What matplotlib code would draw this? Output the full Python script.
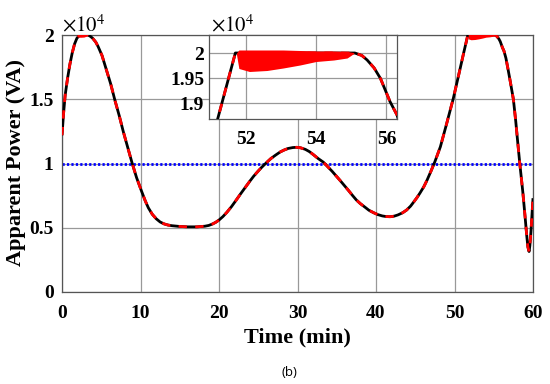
import matplotlib
matplotlib.use('Agg')
import matplotlib.pyplot as plt

# ---- data (apparent power in units of 1e4 VA) ----
time_min = [0, 0.2, 0.4, 0.7, 1.0, 1.3, 1.6, 1.9, 2.2, 2.6, 3.3, 3.6, 3.9, 4.3, 4.6, 5.1, 5.6,
            6.2, 6.75, 7.3, 7.8, 8.35, 8.9, 9.5, 10.1, 10.6, 11.0, 11.5, 12.0, 12.5, 13.0, 13.5,
            14.0, 15.0, 16.0, 17.2, 18.2, 18.7, 19.2, 19.6, 20.0, 20.5, 21.0, 21.6, 22.2, 22.8,
            23.3, 23.9, 24.4, 24.9, 25.4, 26.1, 26.6, 27.2, 27.8, 28.3, 28.8, 29.4, 29.9, 30.4,
            31.0, 31.5, 32.0, 32.6, 33.3, 34.4, 35.4, 36.5, 37.0, 37.5, 38.0, 38.6, 39.1, 39.7,
            40.2, 40.8, 41.3, 41.8, 42.3, 42.8, 43.4, 43.9, 44.4, 44.8, 45.2, 45.6, 46.1, 46.5,
            47.0, 47.5, 48.2, 49.0, 49.85, 50.5, 51.2, 51.7, 52.0, 53.0, 54.0, 55.1, 55.3, 55.45,
            55.65, 55.83, 56.1, 56.3, 56.55, 56.8, 57.1, 57.5, 57.8, 58.0, 58.3, 58.7, 59.0,
            59.2, 59.35, 59.5, 59.6, 59.75, 60.0]
power_ref = [1.22, 1.39, 1.53, 1.66, 1.77, 1.86, 1.93, 1.975, 1.995, 2.0, 2.0, 1.99, 1.975, 1.945,
             1.91, 1.84, 1.74, 1.62, 1.49, 1.37, 1.25, 1.13, 1.01, 0.89, 0.79, 0.71, 0.655, 0.605,
             0.57, 0.545, 0.53, 0.521, 0.516, 0.51, 0.507, 0.507, 0.512, 0.518, 0.53, 0.543, 0.56,
             0.587, 0.62, 0.665, 0.716, 0.768, 0.81, 0.86, 0.90, 0.935, 0.968, 1.01, 1.038, 1.065,
             1.09, 1.105, 1.117, 1.124, 1.126, 1.122, 1.11, 1.093, 1.07, 1.04, 1.01, 0.94, 0.87,
             0.79, 0.752, 0.716, 0.688, 0.66, 0.636, 0.617, 0.603, 0.592, 0.587, 0.586, 0.59,
             0.60, 0.617, 0.638, 0.668, 0.70, 0.733, 0.77, 0.82, 0.87, 0.94, 1.014, 1.13, 1.31,
             1.507, 1.68, 1.869, 2.0, 2.0, 2.0, 2.0, 2.0, 1.995, 1.986, 1.97, 1.949, 1.903, 1.876,
             1.82, 1.74, 1.64, 1.50, 1.33, 1.20, 1.01, 0.78, 0.58, 0.44, 0.35, 0.315, 0.36, 0.48,
             0.73]
power_act = power_ref

# ripple band of the measured power at the capped peaks
peak1_t = [2.0, 2.3, 2.8, 3.3]
peak1_lo = [1.99, 1.982, 1.984, 1.995]
peak2_t = [51.73, 51.8, 52.1, 52.6, 53.06, 53.54, 54.0, 54.5, 54.88, 55.07]
peak2_lo = [1.998, 1.969, 1.963, 1.965, 1.970, 1.976, 1.983, 1.986, 1.990, 1.999]
peak2_hi = [2.0, 2.006, 2.006, 2.006, 2.006, 2.005, 2.004, 2.004, 2.003, 2.001]
limit_level = 1.0

main_xticks = [0, 10, 20, 30, 40, 50, 60]
main_yticks = [0, 0.5, 1, 1.5, 2]
main_ylabels = ['0', '0.5', '1', '1.5', '2']
inset_xticks = [52, 54, 56]
inset_yticks = [1.9, 1.95, 2.0]
inset_ylabels = ['1.9', '1.95', '2']

plt.rcParams['mathtext.fontset'] = 'stix'
serif = 'Liberation Serif'
W, H = 550, 384

fig = plt.figure(figsize=(5.5, 3.84), dpi=100)
ax = fig.add_axes([62 / W, 1 - 292 / H, 471 / W, 257 / H])

def style(a, xt, yt, ylab, xpad, ypad):
    a.set_xticks(xt)
    a.set_yticks(yt)
    a.set_yticklabels(ylab)
    a.set_xticklabels([str(v) for v in xt])
    a.grid(True, color='#999999', lw=0.9)
    a.set_axisbelow(True)
    a.tick_params(axis='x', direction='in', length=0, pad=xpad)
    a.tick_params(axis='y', direction='in', length=0, pad=ypad)
    for lbl in a.get_xticklabels() + a.get_yticklabels():
        lbl.set_fontfamily(serif)
        lbl.set_fontweight('bold')
        lbl.set_fontsize(14)
    for s in a.spines.values():
        s.set_color('#555555')
        s.set_linewidth(0.9)

def draw(a):
    a.plot(time_min, power_ref, color='black', lw=2.0, solid_capstyle='butt', zorder=3)
    a.plot(time_min, power_act, color='red', lw=2.0, dashes=(3, 3), zorder=4)
    a.fill_between(peak1_t, peak1_lo, [2.006] * len(peak1_t), color='red', lw=0, zorder=5)
    a.fill_between(peak2_t, peak2_lo, peak2_hi, color='red', lw=0, zorder=5)

draw(ax)
ax.axhline(limit_level, color='blue', lw=2.0, ls=(0, (0.8, 0.8)), zorder=2)
ax.set_xlim(0, 60)
ax.set_ylim(0, 2)
style(ax, main_xticks, main_yticks, main_ylabels, 9, 6)

axi = fig.add_axes([209 / W, 1 - 119 / H, 188 / W, 84 / H])
axi.set_facecolor('white')
draw(axi)
axi.set_xlim(50.95, 56.3)
axi.set_ylim(1.868, 2.036)
style(axi, inset_xticks, inset_yticks, inset_ylabels, 9, 3.5)

fig.text(62 / W, 1 - 31 / H, r'$\times10^{4}$', fontsize=15, ha='left', va='baseline')
fig.text(211 / W, 1 - 31 / H, r'$\times10^{4}$', fontsize=15, ha='left', va='baseline')

fig.text(16 / W, 1 - 163 / H, 'Apparent Power (VA)', rotation=90, ha='center', va='center',
         fontfamily=serif, fontweight='bold', fontsize=16)
fig.text(297 / W, 1 - 337 / H, 'Time (min)', ha='center', va='center',
         fontfamily=serif, fontweight='bold', fontsize=16)
fig.text(289 / W, 1 - 373 / H, '(b)', ha='center', va='center', fontfamily='Open Sans', fontsize=9.5)

fig.savefig('out.png', dpi=100)
